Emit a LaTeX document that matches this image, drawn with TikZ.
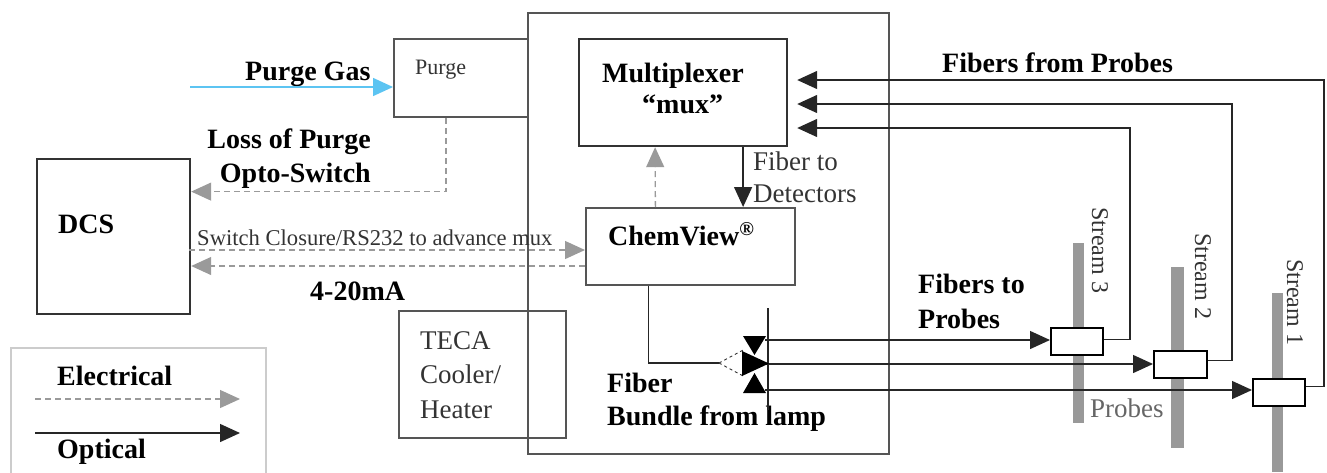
\documentclass[tikz,border=0pt]{standalone}
\usepackage{fontspec}
\setmainfont{Liberation Serif}
\usetikzlibrary{arrows.meta}
\definecolor{boxline}{HTML}{555555}
\definecolor{elgray}{HTML}{9A9A9A}
\definecolor{gasblue}{HTML}{5CC4F2}
\definecolor{streamgray}{HTML}{999999}
\tikzset{
  box/.style={draw=boxline, line width=1.8pt, rectangle, inner sep=0pt, anchor=north west},
  darkbox/.style={draw=black!80, line width=2.2pt, rectangle, inner sep=0pt, anchor=north west},
  probebox/.style={draw=black, fill=white, line width=1.8pt, rectangle, inner sep=0pt, anchor=north west},
  opt/.style={draw=black!85, line width=1.4pt, -{Triangle[length=20pt,width=18pt]}},
  optline/.style={draw=black!85, line width=1.4pt},
  elec/.style={draw=elgray, line width=1.3pt, dash pattern=on 6pt off 4pt, -{Triangle[length=20pt,width=18pt]}},
  big/.style={font=\fontsize{28}{33}\selectfont\bfseries, inner sep=0pt, anchor=base west},
  reg/.style={font=\fontsize{27}{33}\selectfont, inner sep=0pt, anchor=base west, text=black!80},
}
\begin{document}
\begin{tikzpicture}[x=1pt,y=-1pt]
\useasboundingbox (0,0) rectangle (1327,472);
% stream bars
\fill[streamgray] (1073,243) rectangle (1084,423);
\fill[streamgray] (1171,267) rectangle (1184,448);
\fill[streamgray] (1272,293) rectangle (1283,472);
% probes
\node[probebox, minimum width=52pt, minimum height=27pt] (p3) at (1050,327) {};
\node[probebox, minimum width=53pt, minimum height=27pt] (p2) at (1153,350) {};
\node[probebox, minimum width=52pt, minimum height=27pt] (p1) at (1252,378) {};
% boxes
\node[box, minimum width=361pt, minimum height=441pt] (unit) at (527,12) {};
\node[box, minimum width=134pt, minimum height=78pt] (purge) at (393,38) {};
\node[darkbox, minimum width=208pt, minimum height=107pt] (mux) at (578,38) {};
\node[box, minimum width=209pt, minimum height=77pt] (chem) at (585,207) {};
\node[darkbox, minimum width=153pt, minimum height=155pt] (dcs) at (36,158) {};
\node[box, minimum width=167pt, minimum height=127pt] (teca) at (398,310) {};
\node[draw=black!20, line width=1.5pt, rectangle, inner sep=0pt, anchor=north west, minimum width=255pt, minimum height=150pt] (legend) at (10,347) {};
% texts
\node[big] (tgas) at (245,80) {Purge Gas};
\node[reg, font=\fontsize{22}{26}\selectfont] (tpurge) at (415,74) {Purge};
\node[big, anchor=base east] (tloss) at (371,148) {Loss of Purge};
\node[big, anchor=base east] (topto) at (371,182) {Opto-Switch};
\node[big] (tdcs) at (58,233) {DCS};
\node[reg, font=\fontsize{22.6}{26}\selectfont] (tswitch) at (197,245) {Switch Closure/RS232 to advance mux};
\node[big] (tma) at (310,300) {4-20mA};
\node[reg] (tteca1) at (420,349) {TECA};
\node[reg] (tteca2) at (420,383) {Cooler/};
\node[reg] (tteca3) at (420,418) {Heater};
\node[big] (tel) at (57,385) {Electrical};
\node[big] (top) at (57,458) {Optical};
\node[big] (tmux1) at (602,82) {Multiplexer};
\node[big] (tmux2) at (642,113) {``mux''};
\node[reg] (tfd1) at (753,170) {Fiber to};
\node[reg] (tfd2) at (753,202) {Detectors};
\node[big] (tchem) at (608,245) {ChemView\textsuperscript{\textregistered}};
\node[big] (tfb1) at (607,392) {Fiber};
\node[big] (tfb2) at (607,425) {Bundle from lamp};
\node[big] (tffp) at (942,72) {Fibers from Probes};
\node[big] (tftp1) at (918,293) {Fibers to};
\node[big] (tftp2) at (918,328) {Probes};
\node[reg, text=black!60] (tprobes) at (1090,417) {Probes};
\node[reg, font=\fontsize{24}{28}\selectfont, rotate=-90, anchor=center] (ts3) at (1100,250) {Stream 3};
\node[reg, font=\fontsize{24}{28}\selectfont, rotate=-90, anchor=center] (ts2) at (1203,276) {Stream 2};
\node[reg, font=\fontsize{24}{28}\selectfont, rotate=-90, anchor=center] (ts1) at (1295,302) {Stream 1};
% purge gas
\coordinate (gasstart) at (190,87);
\draw[draw=gasblue, line width=1.5pt, -{Triangle[length=20pt,width=18pt]}, fill=gasblue] (gasstart) -- (gasstart -| purge.west);
% electrical connectors
\draw[elec] ([xshift=-15pt]purge.south) |- ([yshift=45pt]dcs.east);
\coordinate (sw) at (189,250);
\draw[elec] (sw) -- (sw -| chem.west);
\coordinate (ma) at (585,266);
\draw[elec] (ma) -- (ma -| dcs.east);
\draw[elec] ([xshift=-35pt]chem.north) -- ([xshift=-28pt]mux.south);
% optical mux to chemview
\draw[opt] ([xshift=60pt]mux.south) -- ([xshift=60pt]mux.south |- chem.north);
% fibers from probes
\coordinate (c1) at (1324,80);
\coordinate (c2) at (1232,104);
\coordinate (c3) at (1130,128);
\draw[opt, shorten >=9pt] ([yshift=6pt]p1.east) -| (c1) -- (c1 -| mux.east);
\draw[opt, shorten >=9pt] ([yshift=4pt]p2.east) -| (c2) -- (c2 -| mux.east);
\draw[opt, shorten >=9pt] ([yshift=2pt]p3.east) -| (c3) -- (c3 -| mux.east);
% bundle
\coordinate (bt) at (768,308);
\coordinate (bb) at (768,410);
\draw[optline] (bt) -- (bb);
\coordinate (bv) at (719,363);
\draw[optline] ([xshift=-42pt]chem.south) |- (bv);
\draw[black!80, line width=0.9pt, dashed] (bv) -- (745,349);
\draw[black!80, line width=0.9pt, dashed] (bv) -- (745,377);
% fibers to probes
\coordinate (f3) at (765,340);
\coordinate (f2) at (766,364);
\coordinate (f1) at (765,390);
\draw[opt] (f3) -- (f3 -| p3.west);
\draw[opt] (f2) -- (f2 -| p2.west);
\draw[opt] (f1) -- (f1 -| p1.west);
\fill[black] (743,336) -- (766,336) -- (754.5,355) -- cycle;
\fill[black] (742,351) -- (769,363.5) -- (742,376) -- cycle;
\fill[black] (743,393) -- (766,393) -- (754.5,373) -- cycle;
% legend
\coordinate (le1) at (35,399);
\coordinate (le2) at (240,399);
\draw[elec] (le1) -- (le2);
\coordinate (lo1) at (35,433);
\coordinate (lo2) at (240,433);
\draw[opt] (lo1) -- (lo2);
\end{tikzpicture}
\end{document}
